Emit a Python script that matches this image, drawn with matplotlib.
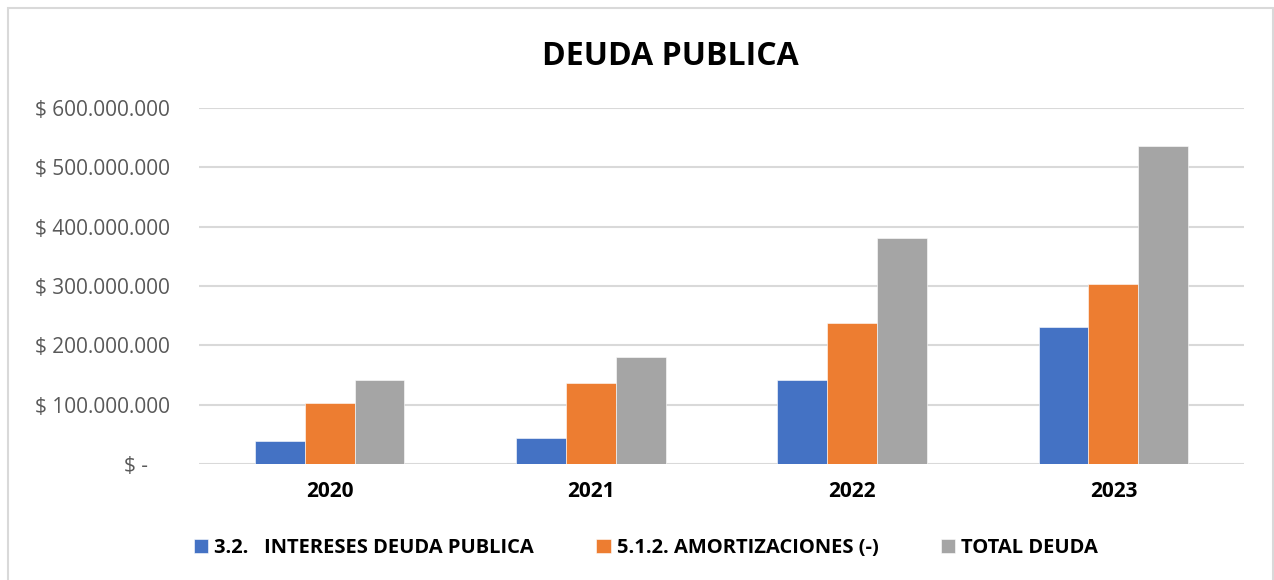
import numpy as np
import matplotlib.pyplot as plt
from matplotlib.patches import Rectangle
from matplotlib.ticker import FuncFormatter

# Datos de deuda publica por año
years = ["2020", "2021", "2022", "2023"]
intereses = [38.7e6, 44e6, 142e6, 231e6]
amortizaciones = [102.7e6, 136e6, 238e6, 304e6]
total_deuda = [142e6, 181e6, 381e6, 536e6]

series_names = ["3.2.   INTERESES DEUDA PUBLICA", "5.1.2. AMORTIZACIONES (-)", "TOTAL DEUDA"]
colors = ["#4472C4", "#ED7D31", "#A5A5A5"]

plt.rcParams['font.family'] = ['Open Sans', 'DejaVu Sans']

fig = plt.figure(figsize=(12.74, 5.8), dpi=100)
ax = fig.add_axes([199 / 1274, 116 / 580, 1045 / 1274, 356 / 580])

# borde exterior del grafico
fig.patches.append(Rectangle((8 / 1274, -0.05), 1264.5 / 1274, 1 - 8 / 580 + 0.05,
                             transform=fig.transFigure, fill=False,
                             edgecolor="#d9d9d9", linewidth=1.5))

x = np.arange(len(years))
w = 0.191
for i, (vals, name, c) in enumerate(zip([intereses, amortizaciones, total_deuda], series_names, colors)):
    ax.bar(x + (i - 1) * w, vals, width=w, color=c, label=name,
           edgecolor="white", linewidth=0.4, zorder=3)

ax.set_xlim(-0.5, 3.5)
ax.set_ylim(0, 600e6)
ax.set_yticks(np.arange(0, 600e6 + 1, 100e6))


def fmt(v, pos):
    if v == 0:
        return "$ -    "
    return "$ " + f"{v:,.0f}".replace(",", ".")


ax.yaxis.set_major_formatter(FuncFormatter(fmt))
ax.grid(axis="y", color="#d9d9d9", linewidth=1.5, zorder=0)
for s in ax.spines.values():
    s.set_visible(False)
ax.tick_params(axis="y", length=0, pad=21, labelsize=15, labelcolor="#595959")
ax.tick_params(axis="x", length=0, pad=12, labelsize=15)
ax.set_xticks(x)
ax.set_xticklabels(years, fontweight="bold")

fig.text(0.526, 0.903, "DEUDA PUBLICA", ha="center", va="center",
         fontsize=23, fontweight="bold")

leg = fig.legend(loc="center", bbox_to_anchor=(646 / 1274, 0.055), ncol=3,
                 frameon=False, handlelength=0.7, handleheight=0.7,
                 handletextpad=0.3, columnspacing=3.1,
                 prop={"weight": "bold", "size": 14.5})

fig.savefig("out.png", dpi=100)
